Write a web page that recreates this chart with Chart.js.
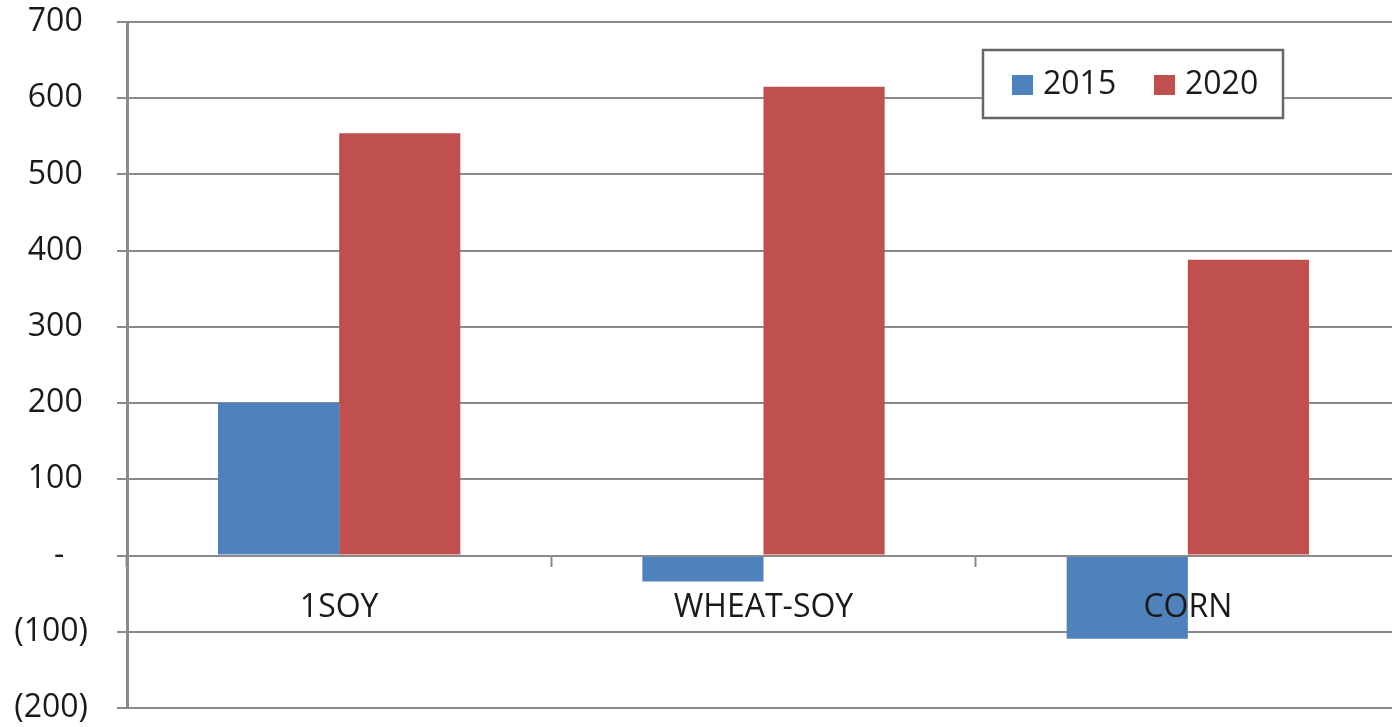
<!DOCTYPE html>
<html>
<head>
<meta charset="utf-8">
<script src="https://cdn.jsdelivr.net/npm/chart.js@4/dist/chart.umd.min.js"></script>
<style>
  html, body { margin: 0; padding: 0; background: #fff; overflow: hidden; }
  #wrap { width: 1400px; height: 727px; position: relative; }
</style>
</head>
<body>
<div id="wrap"><canvas id="c"></canvas></div>
<script>
// Rotation categories and yearly values
const categories = ['1SOY', 'WHEAT-SOY', 'CORN'];
const seriesNames = ['2015', '2020'];
const values2015 = [200, -34, -109];
const values2020 = [554, 615, 388];
const yMin = -200;
const yMax = 700;
const yStep = 100;

const BLUE = '#4F81BD';
const RED = '#C0504D';
const GRID = '#8a8a8a';
const FONT = "'Open Sans', 'Noto Sans', sans-serif";

// Accounting-style tick labels: dash for zero, parentheses for negatives
function accounting(v) {
  if (v === 0) return '-\u2007\u2009';
  if (v < 0) return '(' + Math.abs(v) + ')';
  return v + '\u2009';
}

// Framed legend drawn inside the plot area
const boxedLegend = {
  id: 'boxedLegend',
  afterDraw(chart) {
    const ctx = chart.ctx;
    const x = 983, y = 50, w = 300, h = 68;
    ctx.save();
    ctx.fillStyle = '#fff';
    ctx.fillRect(x, y, w, h);
    ctx.strokeStyle = '#666';
    ctx.lineWidth = 2.5;
    ctx.strokeRect(x, y, w, h);
    ctx.font = '32px ' + FONT;
    ctx.textBaseline = 'middle';
    const items = chart.data.datasets.map(d => ({ label: d.label, color: d.backgroundColor }));
    const starts = [1012, 1154];
    items.forEach((it, i) => {
      ctx.fillStyle = it.color;
      ctx.fillRect(starts[i], 75, 21, 20);
      ctx.fillStyle = '#1a1a1a';
      ctx.fillText(it.label, starts[i] + 31, 85);
    });
    ctx.restore();
  }
};

new Chart(document.getElementById('c'), {
  type: 'bar',
  data: {
    labels: categories,
    datasets: [
      { label: seriesNames[0], data: values2015, backgroundColor: BLUE },
      { label: seriesNames[1], data: values2020, backgroundColor: RED }
    ]
  },
  options: {
    responsive: true,
    maintainAspectRatio: false,
    animation: false,
    layout: { padding: { top: 22, bottom: 19, left: 0, right: 0 } },
    datasets: { bar: { barPercentage: 1, categoryPercentage: 0.571 } },
    plugins: {
      legend: { display: false },
      tooltip: { enabled: false }
    },
    scales: {
      x: {
        position: { y: 0 },
        offset: true,
        afterFit(scale) {
          scale.paddingLeft = 0;
          scale.paddingRight = 0;
        },
        grid: {
          display: true,
          offset: true,
          drawOnChartArea: false,
          drawTicks: true,
          tickLength: 10,
          tickWidth: 2,
          color: GRID,
          z: 1
        },
        border: { display: true, color: GRID, width: 2, z: 1 },
        ticks: {
          z: 1,
          color: '#1a1a1a',
          padding: 23,
          font: { family: FONT, size: 32 }
        }
      },
      y: {
        min: yMin,
        max: yMax,
        afterFit(scale) {
          scale.width = 127;
          scale.paddingTop = 0;
          scale.paddingBottom = 0;
        },
        grid: {
          color: GRID,
          lineWidth: 2,
          drawTicks: true,
          tickLength: 10
        },
        border: { display: true, color: GRID, width: 3 },
        ticks: {
          stepSize: yStep,
          padding: 29,
          color: '#1a1a1a',
          font: { family: FONT, size: 32 },
          callback: (v) => accounting(v)
        }
      }
    }
  },
  plugins: [boxedLegend]
});
</script>
</body>
</html>
